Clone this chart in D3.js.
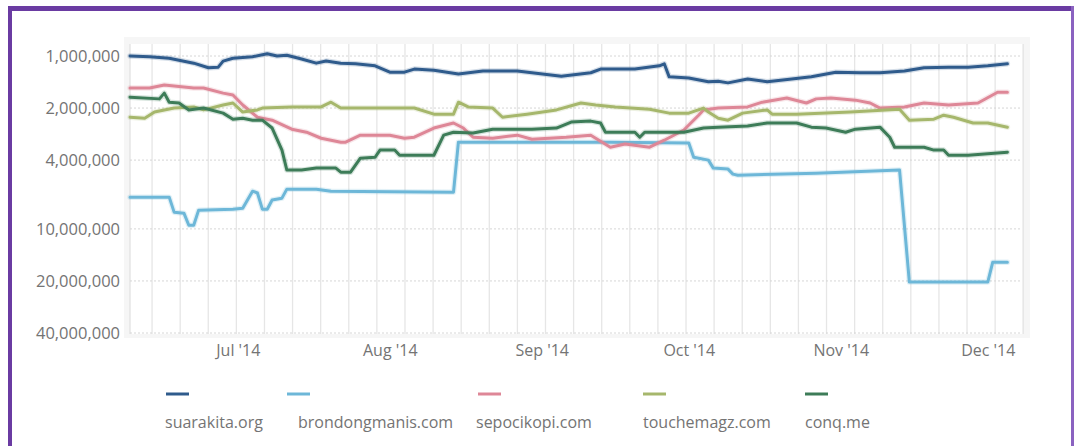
<!DOCTYPE html>
<html>
<head>
<meta charset="utf-8">
<script src="https://cdn.jsdelivr.net/npm/d3@7/dist/d3.min.js"></script>
<style>
  html, body { margin: 0; padding: 0; background: #ffffff; }
  svg { display: block; }
  text { font-family: "Open Sans", "Noto Sans", sans-serif; }
</style>
</head>
<body>
<svg id="chart" width="1075" height="446"></svg>
<script>
// ---- Data (Alexa-style traffic rank, lower = better) ----
const seriesNames = ["suarakita.org", "brondongmanis.com", "sepocikopi.com", "touchemagz.com", "conq.me"];
const seriesColors = ["#2f5b8c", "#6db7d8", "#de8797", "#a6b76c", "#3d7c58"];

const yTickValues = [1000000, 2000000, 4000000, 10000000, 20000000, 40000000];
const xTickDates = ["2014-07-01", "2014-08-01", "2014-09-01", "2014-10-01", "2014-11-01", "2014-12-01"];
const xTickLabels = ["Jul '14", "Aug '14", "Sep '14", "Oct '14", "Nov '14", "Dec '14"];

const suarakita = [
  ["2014-06-09",1000000],["2014-06-13",1010000],["2014-06-17",1030000],["2014-06-22",1100000],
  ["2014-06-25",1170000],["2014-06-27",1160000],["2014-06-28",1070000],["2014-06-30",1030000],
  ["2014-07-04",1010000],["2014-07-07",970000],["2014-07-09",1000000],["2014-07-11",990000],
  ["2014-07-14",1040000],["2014-07-17",1100000],["2014-07-19",1070000],["2014-07-22",1100000],
  ["2014-07-25",1110000],["2014-07-29",1140000],["2014-08-01",1240000],["2014-08-04",1240000],
  ["2014-08-06",1190000],["2014-08-10",1210000],["2014-08-15",1270000],["2014-08-20",1220000],
  ["2014-08-27",1220000],["2014-08-30",1250000],["2014-09-05",1310000],["2014-09-11",1250000],
  ["2014-09-13",1190000],["2014-09-20",1190000],["2014-09-25",1140000],["2014-09-26",1110000],
  ["2014-09-27",1320000],["2014-10-01",1340000],["2014-10-05",1410000],["2014-10-07",1400000],
  ["2014-10-09",1430000],["2014-10-13",1360000],["2014-10-17",1410000],["2014-10-22",1360000],
  ["2014-10-26",1320000],["2014-10-31",1240000],["2014-11-05",1250000],["2014-11-09",1250000],
  ["2014-11-14",1220000],["2014-11-18",1170000],["2014-11-23",1160000],["2014-11-27",1160000],
  ["2014-12-01",1140000],["2014-12-05",1110000]
];

const brondongmanis = [
  ["2014-06-09",6550000],["2014-06-17",6550000],["2014-06-18",8000000],["2014-06-20",8110000],
  ["2014-06-21",9520000],["2014-06-22",9520000],["2014-06-23",7790000],["2014-06-30",7690000],
  ["2014-07-02",7590000],["2014-07-04",6050000],["2014-07-05",6200000],["2014-07-06",7690000],
  ["2014-07-07",7690000],["2014-07-08",6800000],["2014-07-10",6640000],["2014-07-11",5890000],
  ["2014-07-17",5890000],["2014-07-20",6050000],["2014-08-14",6130000],["2014-08-15",3150000],
  ["2014-09-01",3150000],["2014-09-15",3150000],["2014-10-01",3190000],["2014-10-02",3850000],
  ["2014-10-05",4000000],["2014-10-06",4450000],["2014-10-09",4510000],["2014-10-10",4820000],
  ["2014-10-11",4890000],["2014-10-27",4760000],["2014-11-13",4570000],["2014-11-15",20300000],
  ["2014-12-01",20300000],["2014-12-02",15600000],["2014-12-05",15600000]
];

const sepocikopi = [
  ["2014-06-09",1530000],["2014-06-13",1530000],["2014-06-16",1470000],["2014-06-22",1530000],
  ["2014-06-24",1530000],["2014-06-28",1640000],["2014-06-30",1680000],["2014-07-02",1920000],
  ["2014-07-05",2260000],["2014-07-08",2350000],["2014-07-12",2650000],["2014-07-15",2760000],
  ["2014-07-18",2990000],["2014-07-22",3150000],["2014-07-23",3150000],["2014-07-26",2870000],
  ["2014-08-01",2870000],["2014-08-04",2990000],["2014-08-06",2950000],["2014-08-10",2610000],
  ["2014-08-14",2440000],["2014-08-16",2610000],["2014-08-18",2950000],["2014-08-22",2990000],
  ["2014-08-27",2870000],["2014-08-30",3030000],["2014-09-06",2950000],["2014-09-11",2870000],
  ["2014-09-15",3370000],["2014-09-18",3230000],["2014-09-23",3370000],["2014-09-26",3070000],
  ["2014-09-30",2680000],["2014-10-03",2200000],["2014-10-04",2050000],["2014-10-07",2000000],
  ["2014-10-13",1970000],["2014-10-16",1850000],["2014-10-21",1750000],["2014-10-25",1870000],
  ["2014-10-27",1770000],["2014-10-30",1750000],["2014-11-04",1800000],["2014-11-07",1870000],
  ["2014-11-09",2000000],["2014-11-14",1970000],["2014-11-18",1870000],["2014-11-23",1920000],
  ["2014-11-29",1870000],["2014-12-03",1620000],["2014-12-05",1620000]
];

const touchemagz = [
  ["2014-06-09",2260000],["2014-06-12",2290000],["2014-06-14",2110000],["2014-06-18",2000000],
  ["2014-06-22",1970000],["2014-06-24",2050000],["2014-06-28",1920000],["2014-06-30",1870000],
  ["2014-07-02",2110000],["2014-07-05",2050000],["2014-07-06",2000000],["2014-07-12",1970000],
  ["2014-07-18",1970000],["2014-07-20",1850000],["2014-07-22",2000000],["2014-08-06",2000000],
  ["2014-08-10",2170000],["2014-08-14",2170000],["2014-08-15",1850000],["2014-08-17",1970000],
  ["2014-08-22",2000000],["2014-08-24",2260000],["2014-08-29",2170000],["2014-09-04",2050000],
  ["2014-09-09",1870000],["2014-09-12",1920000],["2014-09-16",1970000],["2014-09-23",2030000],
  ["2014-09-27",2140000],["2014-10-01",2140000],["2014-10-04",2000000],["2014-10-05",2110000],
  ["2014-10-07",2290000],["2014-10-09",2350000],["2014-10-12",2140000],["2014-10-17",2050000],
  ["2014-10-18",2170000],["2014-10-23",2170000],["2014-11-03",2110000],["2014-11-13",2030000],
  ["2014-11-15",2350000],["2014-11-20",2320000],["2014-11-22",2200000],["2014-11-24",2260000],
  ["2014-11-28",2440000],["2014-12-01",2440000],["2014-12-05",2580000]
];

const conq = [
  ["2014-06-09",1730000],["2014-06-15",1770000],["2014-06-16",1640000],["2014-06-17",1850000],
  ["2014-06-19",1870000],["2014-06-21",2050000],["2014-06-24",2000000],["2014-06-28",2140000],
  ["2014-06-30",2320000],["2014-07-02",2290000],["2014-07-04",2350000],["2014-07-06",2350000],
  ["2014-07-08",2610000],["2014-07-10",3500000],["2014-07-11",4570000],["2014-07-14",4570000],
  ["2014-07-17",4450000],["2014-07-21",4450000],["2014-07-22",4700000],["2014-07-24",4700000],
  ["2014-07-26",3900000],["2014-07-29",3850000],["2014-07-30",3500000],["2014-08-02",3500000],
  ["2014-08-03",3750000],["2014-08-10",3750000],["2014-08-12",2870000],["2014-08-14",2760000],
  ["2014-08-18",2790000],["2014-08-22",2650000],["2014-08-30",2650000],["2014-09-04",2610000],
  ["2014-09-07",2410000],["2014-09-11",2380000],["2014-09-13",2440000],["2014-09-14",2760000],
  ["2014-09-20",2760000],["2014-09-21",2950000],["2014-09-22",2760000],["2014-09-30",2760000],
  ["2014-10-04",2610000],["2014-10-07",2580000],["2014-10-13",2540000],["2014-10-17",2440000],
  ["2014-10-23",2440000],["2014-10-26",2580000],["2014-10-29",2610000],["2014-11-02",2760000],
  ["2014-11-04",2650000],["2014-11-09",2580000],["2014-11-11",2950000],["2014-11-12",3370000],
  ["2014-11-18",3370000],["2014-11-20",3500000],["2014-11-22",3500000],["2014-11-23",3750000],
  ["2014-11-27",3750000],["2014-12-05",3600000]
];

const seriesData = [suarakita, brondongmanis, sepocikopi, touchemagz, conq];

// ---- Layout ----
const parse = d3.timeParse("%Y-%m-%d");
const svg = d3.select("#chart");
const plot = { left: 130, right: 1027, top: 44, bottom: 334 };

const x = d3.scaleTime()
  .domain([parse("2014-06-09"), parse("2014-12-09")])
  .range([plot.left, plot.right]);
const y = d3.scaleLog()
  .domain([1000000, 40000000])
  .range([56, 333]);

// purple frame
svg.append("rect").attr("x", 8).attr("y", 6).attr("width", 1066).attr("height", 5).attr("fill", "#6a3ba2");
svg.append("rect").attr("x", 8).attr("y", 6).attr("width", 4).attr("height", 440).attr("fill", "#6a3ba2");
svg.append("rect").attr("x", 1071).attr("y", 6).attr("width", 3).attr("height", 440).attr("fill", "#8a62c0");

// faint panel
svg.append("rect").attr("x", 124).attr("y", 37).attr("width", 906).attr("height", 301).attr("fill", "#f6f6f6");
svg.append("rect").attr("x", plot.left).attr("y", plot.top).attr("width", 892).attr("height", plot.bottom - plot.top).attr("fill", "#ffffff");

// vertical grid lines (regular interval)
const gridStart = d3.timeHour.offset(parse("2014-06-13"), 12);
const gridStepHours = 137.6;
const gridDates = [];
for (let t = gridStart; x(t) <= 1024; t = d3.timeMinute.offset(t, Math.round(gridStepHours * 60))) gridDates.push(t);
svg.append("g").selectAll("line").data(gridDates).join("line")
  .attr("x1", d => x(d)).attr("x2", d => x(d))
  .attr("y1", plot.top).attr("y2", 334)
  .attr("stroke", "#e6e6e6").attr("stroke-width", 1.3);
svg.append("line").attr("x1", plot.left).attr("x2", plot.left).attr("y1", plot.top).attr("y2", 334)
  .attr("stroke", "#e2e2e2").attr("stroke-width", 1.3);

// horizontal dotted grid lines
svg.append("g").selectAll("line").data(yTickValues).join("line")
  .attr("x1", plot.left).attr("x2", 1022)
  .attr("y1", d => y(d)).attr("y2", d => y(d))
  .attr("stroke", "#d6d6d6").attr("stroke-width", 1).attr("stroke-dasharray", "2,2");

// y axis labels
const yAxis = d3.axisLeft(y).tickValues(yTickValues).tickFormat(d3.format(",")).tickSize(0).tickPadding(0);
const gy = svg.append("g").attr("transform", "translate(120,0)").call(yAxis);
gy.select(".domain").remove();
gy.selectAll("text").attr("fill", "#747474").style("font-size", "16.5px").attr("dy", "0.35em");

// x axis labels
const xAxis = d3.axisBottom(x).tickValues(xTickDates.map(parse))
  .tickFormat((d, i) => xTickLabels[i]).tickSize(0).tickPadding(0);
const gx = svg.append("g").attr("transform", "translate(0,345)").call(xAxis);
gx.select(".domain").remove();
gx.selectAll("text").attr("fill", "#747474").style("font-size", "16px").attr("dy", "0.71em");

// lines
const line = d3.line().x(d => x(parse(d[0]))).y(d => y(d[1]));
const lg = svg.append("g");
seriesData.forEach((s, i) => {
  lg.append("path").datum(s).attr("d", line)
    .attr("fill", "none").attr("stroke", seriesColors[i]).attr("stroke-opacity", 0.2)
    .attr("stroke-width", 5.5).attr("stroke-linejoin", "round").attr("stroke-linecap", "round");
  lg.append("path").datum(s).attr("d", line)
    .attr("fill", "none").attr("stroke", seriesColors[i])
    .attr("stroke-width", 3).attr("stroke-linejoin", "round").attr("stroke-linecap", "round");
});

// legend
const legendX = [165, 298, 476, 643, 805];
const markerX = [166, 287, 478, 643, 805];
const lgd = svg.append("g");
seriesNames.forEach((n, i) => {
  lgd.append("line").attr("x1", markerX[i]).attr("x2", markerX[i] + 23)
    .attr("y1", 394).attr("y2", 394)
    .attr("stroke", seriesColors[i]).attr("stroke-width", 3);
  lgd.append("text").attr("x", legendX[i]).attr("y", 428)
    .attr("fill", "#747474").style("font-size", "16px").text(n);
});
</script>
</body>
</html>
